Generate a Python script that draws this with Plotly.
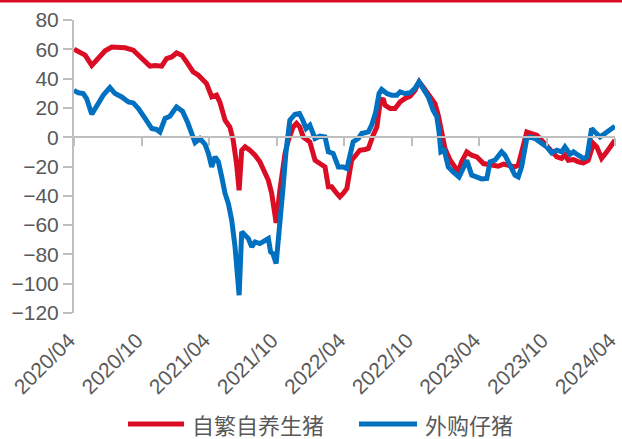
import plotly.graph_objects as go

# 头均养殖利润（元/头）：自繁自养生猪 vs 外购仔猪
series_names = ["自繁自养生猪", "外购仔猪"]

self_bred_dates = [
    "2020-04-01", "2020-04-17", "2020-05-01", "2020-05-19", "2020-06-01", "2020-06-24",
    "2020-07-12", "2020-07-30", "2020-08-17", "2020-09-08", "2020-10-01", "2020-10-23",
    "2020-11-06", "2020-11-24", "2020-12-07", "2020-12-21", "2021-01-03", "2021-01-17",
    "2021-01-30", "2021-02-17", "2021-03-03", "2021-03-25", "2021-04-08", "2021-04-21",
    "2021-04-30", "2021-05-14", "2021-05-27", "2021-06-05", "2021-06-14", "2021-06-21",
    "2021-06-28", "2021-07-07", "2021-07-20", "2021-08-03", "2021-08-16", "2021-08-30",
    "2021-09-08", "2021-09-17", "2021-09-23", "2021-09-29", "2021-10-09", "2021-10-23",
    "2021-11-01", "2021-11-14", "2021-11-23", "2021-12-02", "2021-12-11", "2021-12-20",
    "2021-12-29", "2022-01-12", "2022-01-25", "2022-02-08", "2022-02-17", "2022-02-26",
    "2022-03-12", "2022-03-20", "2022-03-29", "2022-04-08", "2022-04-21", "2022-04-30",
    "2022-05-13", "2022-05-27", "2022-06-05", "2022-06-18", "2022-06-28", "2022-07-07",
    "2022-07-15", "2022-07-20", "2022-08-03", "2022-08-16", "2022-08-30", "2022-09-12",
    "2022-09-26", "2022-10-09", "2022-10-20", "2022-10-31", "2022-11-19", "2022-12-02",
    "2022-12-11", "2022-12-20", "2022-12-29", "2023-01-12", "2023-01-25", "2023-02-03",
    "2023-02-12", "2023-02-26", "2023-03-11", "2023-03-25", "2023-04-12", "2023-05-04",
    "2023-05-22", "2023-06-05", "2023-06-18", "2023-07-06", "2023-07-15", "2023-07-24",
    "2023-08-07", "2023-08-20", "2023-09-03", "2023-09-16", "2023-09-30", "2023-10-13",
    "2023-10-27", "2023-11-09", "2023-11-18", "2023-11-27", "2023-12-11", "2023-12-24",
    "2024-01-07", "2024-01-20", "2024-02-03", "2024-02-12", "2024-02-25", "2024-03-10",
    "2024-03-23", "2024-04-01",
]
self_bred_values = [
    60.1, 58.0, 56.0, 49.0, 52.6, 59.0,
    61.6, 61.2, 61.0, 59.4, 53.7, 48.5,
    49.0, 48.5, 53.7, 54.8, 57.5, 56.0,
    51.4, 44.6, 42.3, 36.6, 27.5, 28.7,
    24.0, 11.6, 7.0, -2.0, -18.0, -36.2,
    -8.9, -6.6, -8.9, -12.3, -16.8, -23.7,
    -29.4, -38.4, -47.6, -58.5, -36.2, -11.1,
    -2.0, 7.0, 9.4, 7.0, 0.2, -2.0,
    -3.2, -15.7, -18.0, -20.3, -33.9, -33.9,
    -38.4, -40.7, -38.4, -35.0, -15.7, -13.4,
    -8.9, -8.4, -7.7, 1.4, 7.0, 24.1,
    26.4, 21.8, 19.6, 19.6, 24.1, 26.4,
    28.0, 32.0, 37.8, 34.3, 27.5, 23.0,
    15.0, 2.5, -7.7, -15.7, -20.3, -23.7,
    -16.8, -10.0, -12.3, -13.4, -18.0, -19.1,
    -19.8, -18.4, -19.3, -20.3, -19.1, -8.9,
    3.6, 2.5, 1.4, -2.0, -5.5, -8.9,
    -13.4, -14.5, -12.3, -15.7, -15.2, -16.8,
    -17.5, -15.7, -4.3, -6.6, -14.5, -10.0,
    -5.5, -2.0,
]

purchased_dates = [
    "2020-04-01", "2020-04-13", "2020-04-26", "2020-05-05", "2020-05-19", "2020-06-01",
    "2020-06-19", "2020-07-07", "2020-07-21", "2020-08-08", "2020-08-26", "2020-09-08",
    "2020-09-22", "2020-10-10", "2020-10-28", "2020-11-10", "2020-11-19", "2020-12-03",
    "2020-12-16", "2021-01-03", "2021-01-19", "2021-02-02", "2021-02-13", "2021-02-22",
    "2021-03-07", "2021-03-21", "2021-03-30", "2021-04-08", "2021-04-17", "2021-04-26",
    "2021-05-05", "2021-05-14", "2021-05-23", "2021-06-01", "2021-06-10", "2021-06-16",
    "2021-06-21", "2021-06-28", "2021-07-07", "2021-07-16", "2021-07-25", "2021-08-03",
    "2021-08-16", "2021-08-30", "2021-09-08", "2021-09-14", "2021-09-20", "2021-09-29",
    "2021-10-08", "2021-10-17", "2021-10-26", "2021-11-05", "2021-11-19", "2021-12-01",
    "2021-12-10", "2021-12-19", "2021-12-29", "2022-01-12", "2022-01-25", "2022-02-08",
    "2022-02-17", "2022-03-02", "2022-03-16", "2022-03-29", "2022-04-08", "2022-04-16",
    "2022-04-25", "2022-05-09", "2022-05-18", "2022-06-05", "2022-06-14", "2022-06-25",
    "2022-07-04", "2022-07-11", "2022-07-25", "2022-08-07", "2022-08-21", "2022-08-30",
    "2022-09-12", "2022-09-26", "2022-10-09", "2022-10-20", "2022-10-31", "2022-11-14",
    "2022-11-27", "2022-12-07", "2022-12-13", "2022-12-18", "2022-12-27", "2023-01-07",
    "2023-01-20", "2023-02-05", "2023-02-16", "2023-02-26", "2023-03-11", "2023-03-25",
    "2023-04-07", "2023-04-21", "2023-04-30", "2023-05-13", "2023-05-31", "2023-06-09",
    "2023-06-23", "2023-07-06", "2023-07-15", "2023-07-24", "2023-08-07", "2023-08-16",
    "2023-08-29", "2023-09-12", "2023-09-30", "2023-10-13", "2023-10-27", "2023-11-09",
    "2023-11-18", "2023-12-02", "2023-12-11", "2023-12-24", "2024-01-07", "2024-01-17",
    "2024-01-29", "2024-02-07", "2024-02-21", "2024-03-05", "2024-03-19", "2024-04-01",
]
purchased_values = [
    32.0, 30.3, 29.8, 26.4, 15.7, 21.8,
    28.7, 33.9, 29.8, 27.5, 24.1, 23.4,
    19.6, 12.8, 5.9, 5.3, 3.6, 12.8,
    14.3, 20.7, 17.8, 10.0, 3.6, -3.7,
    -0.9, -4.9, -11.1, -20.3, -13.4, -16.8,
    -27.1, -38.4, -45.3, -56.7, -74.9, -90.8,
    -107.9, -64.6, -66.9, -69.2, -74.9, -71.5,
    -72.6, -70.3, -69.2, -78.3, -79.4, -86.2,
    -63.5, -36.2, -8.9, 11.6, 15.7, 16.2,
    11.6, 5.9, 8.2, -0.9, 0.7, 0.2,
    -10.0, -11.1, -20.3, -20.3, -21.4, -11.1,
    -3.2, -0.9, 2.5, 3.6, 8.2, 17.3,
    29.8, 32.6, 29.8, 28.7, 28.7, 31.0,
    29.8, 30.3, 33.3, 37.8, 33.3, 27.5,
    18.4, 13.9, 3.6, -10.0, -8.9, -20.3,
    -23.7, -27.1, -21.4, -15.7, -25.9, -27.1,
    -28.5, -28.2, -16.8, -15.7, -10.0, -12.3,
    -19.1, -25.9, -27.1, -20.3, -0.9, 0.2,
    -0.9, -3.2, -6.6, -10.7, -8.9, -10.0,
    -6.6, -11.6, -10.0, -12.3, -14.5, -13.4,
    5.9, 3.6, 0.2, 2.5, 5.3, 7.5,
]

tick_dates = [
    "2020-04-01", "2020-10-01", "2021-04-01", "2021-10-01", "2022-04-01",
    "2022-10-01", "2023-04-01", "2023-10-01", "2024-04-01",
]
tick_labels = [
    "2020/04", "2020/10", "2021/04", "2021/10", "2022/04",
    "2022/10", "2023/04", "2023/10", "2024/04",
]
y_ticks = [-120, -100, -80, -60, -40, -20, 0, 20, 40, 60, 80]

RED = "#DA0D25"
BLUE = "#0070C0"
GREY_TEXT = "#595959"
GREY_LINE = "#BFBFBF"
LATIN = "Liberation Sans, Arial, sans-serif"
CJK = "Noto Sans CJK SC, sans-serif"

W, H = 622, 439
M_L, M_R, M_T, M_B = 74, 7, 20, 126
PW, PH = W - M_L - M_R, H - M_T - M_B

y_min, y_max = y_ticks[0], y_ticks[-1]
zero_pos = (0 - y_min) / (y_max - y_min)

fig = go.Figure()
fig.add_trace(go.Scatter(x=self_bred_dates, y=self_bred_values, mode="lines",
                         name=series_names[0], line=dict(color=RED, width=5),
                         showlegend=False))
fig.add_trace(go.Scatter(x=purchased_dates, y=purchased_values, mode="lines",
                         name=series_names[1], line=dict(color=BLUE, width=5),
                         showlegend=False))

# a few hours of slack so the last tick at the range end is kept
x_range = [tick_dates[0], tick_dates[-1] + " 06:00"]

fig.update_layout(
    width=W, height=H,
    margin=dict(l=M_L, r=M_R, t=M_T, b=M_B, autoexpand=False),
    paper_bgcolor="white", plot_bgcolor="white",
    showlegend=False,
    xaxis=dict(
        range=x_range, type="date", automargin=False,
        tickmode="array", tickvals=tick_dates, ticktext=tick_labels,
        tickangle=-45, tickfont=dict(family=LATIN, size=21, color=GREY_TEXT),
        ticklabelstandoff=10, ticklabelshift=-5, ticklabeloverflow="allow",
        showline=False, showgrid=False, zeroline=False, ticks="",
    ),
    # horizontal axis line drawn through y = 0, with downward tick marks
    xaxis2=dict(
        range=x_range, type="date", overlaying="x", anchor="free", position=zero_pos,
        automargin=False,
        tickmode="array", tickvals=tick_dates, showticklabels=False,
        showline=True, linecolor=GREY_LINE, linewidth=2,
        ticks="outside", ticklen=8, tickwidth=2, tickcolor=GREY_LINE,
        showgrid=False, zeroline=False,
    ),
    yaxis=dict(
        range=[y_min, y_max], tickmode="array", tickvals=y_ticks, automargin=False,
        tickfont=dict(family=LATIN, size=21, color=GREY_TEXT),
        showline=True, linecolor=GREY_LINE, linewidth=2,
        ticks="outside", ticklen=9, tickwidth=2, tickcolor=GREY_LINE,
        showgrid=False, zeroline=False,
    ),
)

# invisible trace so the overlaid axis is drawn
fig.add_trace(go.Scatter(x=[tick_dates[0]], y=[0], xaxis="x2", mode="markers",
                         marker=dict(opacity=0), hoverinfo="skip", showlegend=False))

def px_x(px):
    return (px - M_L) / PW

def px_y(py):
    return (M_T + PH - py) / PH

# red rule across the top of the page
fig.add_shape(type="rect", xref="paper", yref="paper",
              x0=px_x(0), x1=px_x(W), y0=px_y(2.6), y1=px_y(0),
              fillcolor=RED, line=dict(width=0), layer="above")

# legend row below the date labels
legend_y = px_y(424)
legend_items = [(series_names[0], RED, 128, 184, 190), (series_names[1], BLUE, 359, 417, 423)]
for label, color, lx0, lx1, tx in legend_items:
    fig.add_shape(type="line", xref="paper", yref="paper",
                  x0=px_x(lx0), x1=px_x(lx1), y0=legend_y, y1=legend_y,
                  line=dict(color=color, width=5))
    fig.add_annotation(xref="paper", yref="paper", x=px_x(tx), y=legend_y,
                       text=label, showarrow=False, xanchor="left", yanchor="middle",
                       font=dict(family=CJK, size=22, color=GREY_TEXT))

fig.write_html("out.html")
